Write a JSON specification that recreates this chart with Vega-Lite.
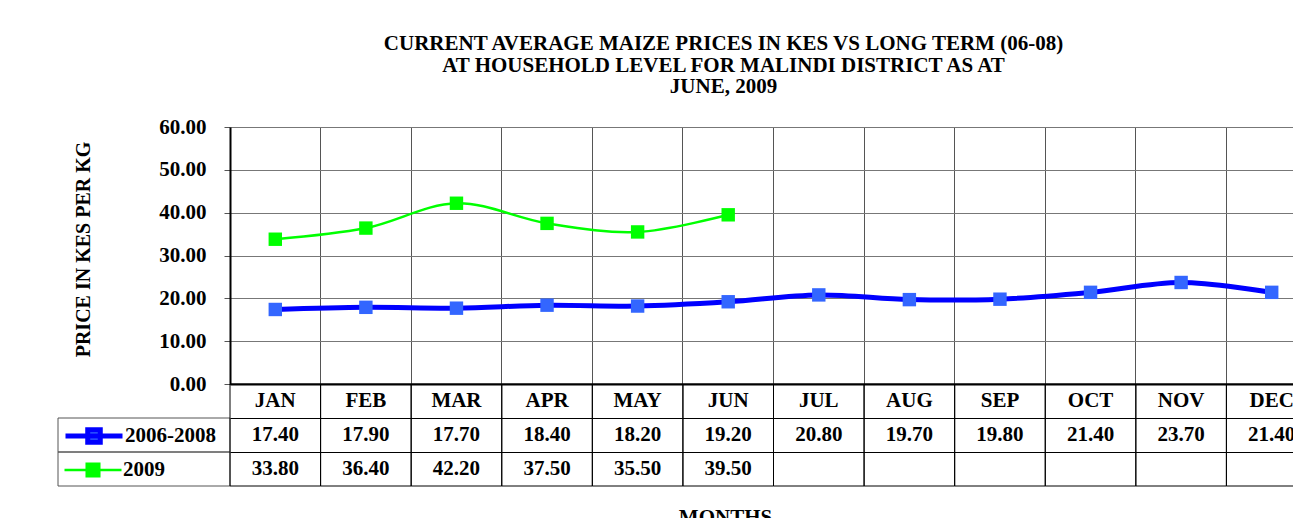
{
  "$schema": "https://vega.github.io/schema/vega-lite/v6.json",
  "padding": {"left": 57, "top": 33, "right": 0, "bottom": 0},
  "background": "white",
  "config": {
    "view": {"stroke": null},
    "font": "Liberation Serif",
    "axis": {"labelFont": "Liberation Serif", "titleFont": "Liberation Serif", "labelFontWeight": "bold", "titleFontWeight": "bold", "labelColor": "black", "titleColor": "black"},
    "legend": {"labelFont": "Liberation Serif", "labelFontWeight": "bold", "labelFontSize": 21, "labelColor": "black", "labelOffset": 0, "padding": 0}
  },
  "title": {
    "text": ["CURRENT AVERAGE MAIZE PRICES IN KES VS LONG TERM (06-08)", "AT HOUSEHOLD LEVEL FOR MALINDI DISTRICT AS AT", "JUNE, 2009"],
    "anchor": "middle", "font": "Liberation Serif", "fontSize": 21, "fontWeight": "bold", "color": "black", "lineHeight": 21.5, "dx": 36, "offset": 19
  },
  "datasets": {
    "prices": [
      {"month": "JAN", "series": "2006-2008", "price": 17.4},
      {"month": "FEB", "series": "2006-2008", "price": 17.9},
      {"month": "MAR", "series": "2006-2008", "price": 17.7},
      {"month": "APR", "series": "2006-2008", "price": 18.4},
      {"month": "MAY", "series": "2006-2008", "price": 18.2},
      {"month": "JUN", "series": "2006-2008", "price": 19.2},
      {"month": "JUL", "series": "2006-2008", "price": 20.8},
      {"month": "AUG", "series": "2006-2008", "price": 19.7},
      {"month": "SEP", "series": "2006-2008", "price": 19.8},
      {"month": "OCT", "series": "2006-2008", "price": 21.4},
      {"month": "NOV", "series": "2006-2008", "price": 23.7},
      {"month": "DEC", "series": "2006-2008", "price": 21.4},
      {"month": "JAN", "series": "2009", "price": 33.8},
      {"month": "FEB", "series": "2009", "price": 36.4},
      {"month": "MAR", "series": "2009", "price": 42.2},
      {"month": "APR", "series": "2009", "price": 37.5},
      {"month": "MAY", "series": "2009", "price": 35.5},
      {"month": "JUN", "series": "2009", "price": 39.5}
    ]
  },
  "data": {"name": "prices"},
  "columns": 2,
  "spacing": 0,
  "bounds": "flush",
  "align": "each",
  "concat": [
    {
      "width": 172, "height": 257,
      "data": {"values": []},
      "mark": "text",
      "encoding": {}
    },
    {
      "width": 1087, "height": 257,
      "encoding": {
        "x": {"field": "month", "type": "nominal",
          "scale": {"type": "band", "domain": ["JAN","FEB","MAR","APR","MAY","JUN","JUL","AUG","SEP","OCT","NOV","DEC"], "paddingInner": 0, "paddingOuter": 0},
          "axis": {"title": null, "labels": false, "ticks": false, "grid": true, "bandPosition": 0, "gridColor": "#555", "gridWidth": 1, "gridOpacity": 1, "domainColor": "black", "domainWidth": 2}},
        "y": {"field": "price", "type": "quantitative",
          "scale": {"domain": [0, 60], "nice": false},
          "axis": {"title": "PRICE IN KES PER KG", "values": [0,10,20,30,40,50,60], "format": ".2f", "labelFontSize": 21, "titleFontSize": 20, "titlePadding": 65, "titleY": 122, "tickSize": 6, "tickColor": "#555", "labelPadding": 18, "gridColor": "#777", "gridOpacity": 1, "domainColor": "black", "domainWidth": 2}}
      },
      "layer": [
        {
          "mark": {"type": "line", "interpolate": "catmull-rom"},
          "encoding": {
            "stroke": {"field": "series", "type": "nominal",
              "scale": {"domain": ["2006-2008", "2009"], "range": ["#0000FF", "#00FF00"]},
              "legend": {
                "orient": "none", "legendX": 5, "legendY": 278, "title": null, "values": ["2006-2008"],
                "symbolType": "M-1,0H1M-0.22,-0.22H0.22V0.22H-0.22Z",
                "symbolSize": 3249,
                "encode": {"symbols": {"update": {
                  "shape": {"value": "M-1,0H1M-0.22,-0.22H0.22V0.22H-0.22Z"},
                  "size": {"value": 3249},
                  "fill": {"value": "#3366FF"},
                  "stroke": {"value": "#0000FF"},
                  "strokeWidth": {"value": 3.5},
                  "fillOpacity": {"value": 1},
                  "strokeOpacity": {"value": 1},
                  "opacity": {"value": 1}
                }}}
              }},
            "strokeWidth": {"field": "series", "type": "nominal",
              "scale": {"domain": ["2006-2008", "2009"], "range": [5, 2.5]}, "legend": null}
          }
        },
        {
          "mark": {"type": "point", "shape": "square", "filled": true, "size": 180, "opacity": 1},
          "encoding": {
            "fill": {"field": "series", "type": "nominal",
              "scale": {"domain": ["2009", "2006-2008"], "range": ["#00FF00", "#3366FF"]},
              "legend": {
                "orient": "none", "legendX": 5, "legendY": 313, "title": null, "values": ["2009"],
                "symbolType": "M-1,0H1M-0.22,-0.22H0.22V0.22H-0.22Z",
                "symbolSize": 3249, "symbolStrokeColor": "#00FF00", "symbolStrokeWidth": 2.5,
                "encode": {"symbols": {"update": {
                  "shape": {"value": "M-1,0H1M-0.22,-0.22H0.22V0.22H-0.22Z"},
                  "size": {"value": 3249},
                  "fill": {"value": "#00FF00"},
                  "stroke": {"value": "#00FF00"},
                  "strokeWidth": {"value": 2.5},
                  "fillOpacity": {"value": 1},
                  "strokeOpacity": {"value": 1},
                  "opacity": {"value": 1}
                }}}
              }}
          }
        }
      ]
    },
    {
      "width": 172, "height": 102,
      "transform": [{"filter": "datum.month == 'JAN'"}],
      "mark": {"type": "rect", "fill": "transparent", "stroke": "#555", "strokeWidth": 1},
      "encoding": {
        "y": {"field": "series", "type": "nominal",
          "scale": {"type": "band", "domain": ["hdr", "2006-2008", "2009"], "paddingInner": 0, "paddingOuter": 0},
          "axis": null}
      }
    },
    {
      "width": 1087, "height": 102,
      "encoding": {
        "x": {"field": "month", "type": "nominal",
          "scale": {"type": "band", "domain": ["JAN","FEB","MAR","APR","MAY","JUN","JUL","AUG","SEP","OCT","NOV","DEC"], "paddingInner": 0, "paddingOuter": 0},
          "axis": {"title": "MONTHS", "labels": false, "ticks": false, "domain": false, "grid": false, "titleFontSize": 21, "titlePadding": 20, "titleX": 495}}
      },
      "layer": [
        {
          "transform": [{"filter": "datum.series == '2006-2008'"}],
          "mark": {"type": "rect", "fill": "transparent", "stroke": "black", "strokeWidth": 1}
        },
        {
          "transform": [{"filter": "datum.series == '2006-2008'"}],
          "mark": {"type": "text", "font": "Liberation Serif", "fontSize": 21, "fontWeight": "bold", "color": "black"},
          "encoding": {
            "y": {"datum": "hdr", "type": "nominal"},
            "text": {"field": "month"}
          }
        },
        {
          "mark": {"type": "text", "font": "Liberation Serif", "fontSize": 21, "fontWeight": "bold", "color": "black"},
          "encoding": {
            "y": {"field": "series", "type": "nominal",
              "scale": {"type": "band", "domain": ["hdr", "2006-2008", "2009"], "paddingInner": 0, "paddingOuter": 0},
              "axis": {"title": null, "labels": false, "ticks": false, "domain": false, "grid": true, "bandPosition": 0, "gridColor": "black", "gridWidth": 1, "gridOpacity": 1}},
            "text": {"field": "price", "type": "quantitative", "format": ".2f"}
          }
        }
      ]
    }
  ]
}
